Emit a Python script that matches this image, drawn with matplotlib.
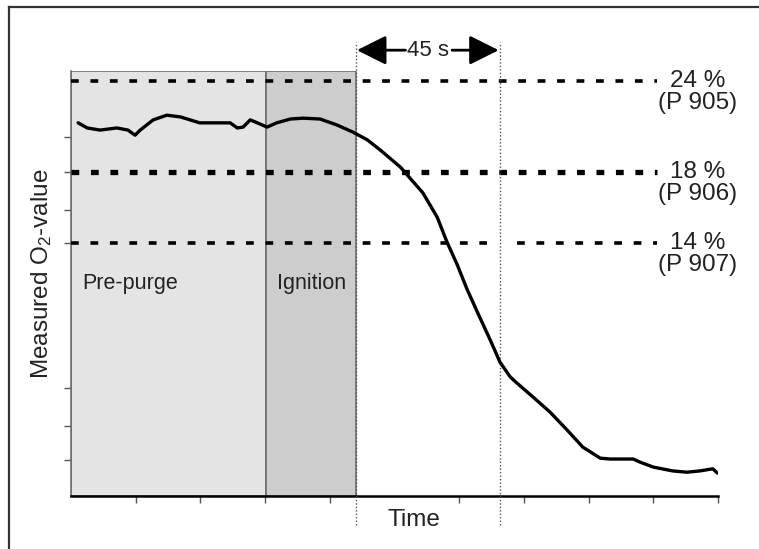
import matplotlib
matplotlib.use("Agg")
import matplotlib.pyplot as plt
from matplotlib.lines import Line2D

# === Data (x: time units, y: relative O2 signal 0-100) ===
time = [0.11, 0.25, 0.45, 0.71, 0.88, 0.99, 1.07, 1.27, 1.48, 1.69, 1.99, 2.26,
        2.46, 2.57, 2.66, 2.77, 2.88, 3.03, 3.18, 3.39, 3.59, 3.85, 4.11, 4.36,
        4.58, 4.78, 5.09, 5.44, 5.66, 5.81, 5.97, 6.12, 6.28, 6.48, 6.63, 6.79,
        6.89, 7.14, 7.40, 7.67, 7.91, 8.18, 8.33, 8.69, 8.79, 9.00, 9.30, 9.52,
        9.72, 9.92, 9.99]
o2_signal = [87.8, 86.6, 86.1, 86.6, 86.1, 84.9, 86.1, 88.5, 89.6, 89.2, 87.8, 87.8,
             87.8, 86.6, 86.8, 88.5, 87.8, 86.8, 87.8, 88.7, 88.9, 88.7, 87.3, 85.6,
             83.8, 81.4, 77.4, 71.3, 65.6, 59.8, 54.4, 48.7, 43.3, 36.7, 31.5, 28.0,
             26.6, 23.3, 19.8, 15.5, 11.5, 8.9, 8.7, 8.7, 8.0, 6.8, 5.9, 5.6,
             5.9, 6.4, 5.4]

thresholds = [97.6, 76.2, 59.5]
threshold_pct = ["24 %", "18 %", "14 %"]
threshold_par = ["(P 905)", "(P 906)", "(P 907)"]
threshold_lw = [2.6, 3.8, 2.6]

phases = ["Pre-purge", "Ignition"]
phase_start = [0.0, 3.01]
phase_end = [3.01, 4.40]
phase_colors = ["#e4e4e4", "#cdcdcd"]

window_start, window_end = 4.40, 6.63   # the 45 s window
y_ticks = [84.5, 76.2, 67.3, 59.5, 25.4, 16.5, 8.5]
x_ticks = [1, 2, 3, 4, 6, 7, 8, 9, 10]

plt.rcParams['font.family'] = ['Liberation Sans', 'DejaVu Sans']
plt.rcParams['mathtext.fontset'] = 'custom'
plt.rcParams['mathtext.rm'] = 'Liberation Sans'
plt.rcParams['mathtext.it'] = 'Liberation Sans'
plt.rcParams['lines.scale_dashes'] = False
txt = "#222222"

fig = plt.figure(figsize=(7.59, 5.49), dpi=100)
ax = fig.add_axes([71 / 759, 1 - 496 / 549, (718 - 71) / 759, (496 - 71) / 549])
ax.set_xlim(0, 10)
ax.set_ylim(0, 100)

# === Outer frame ===
fig.add_artist(Line2D([9 / 759, 9 / 759], [0, 1 - 7 / 549], transform=fig.transFigure,
                      color="#333333", lw=1.6))
fig.add_artist(Line2D([9 / 759, 1], [1 - 7 / 549, 1 - 7 / 549], transform=fig.transFigure,
                      color="#333333", lw=1.6))

# === Phase boxes ===
for name, s, e, c in zip(phases, phase_start, phase_end, phase_colors):
    ax.axvspan(s, e, ymin=0, ymax=1, facecolor=c, edgecolor="#6f6f6f", lw=1.2, zorder=0)
    ax.text(s + 0.18, 50.1, name, fontsize=15.5, color=txt, va="center", ha="left")

# === Threshold lines ===
for y, lw, pct, par in zip(thresholds, threshold_lw, threshold_pct, threshold_par):
    kw = dict(color="black", lw=lw, dashes=(5.6, 8.4), zorder=3)
    if pct == "14 %":
        ax.plot([0, 6.43], [y, y], **kw)
        ax.plot([6.9, 9.05], [y, y], **kw)
    else:
        ax.plot([0, 9.05], [y, y], **kw)
    ax.text(9.69, y, pct, fontsize=17.5, color=txt, ha="center", va="center", clip_on=False)
    ax.text(9.69, y - 5.2, par, fontsize=17.5, color=txt, ha="center", va="center",
            clip_on=False)

# === 45 s window ===
for xv in [window_start, window_end]:
    ax.plot([xv, xv], [-6.8, 106.8], color="#555555", lw=1.0, ls=(0, (1, 1.5)),
            clip_on=False, zorder=4)
arrow_y = 104.9
ax.text(5.52, arrow_y, "45 s", fontsize=16, color=txt, ha="center", va="center")
aprops = dict(arrowstyle="-|>,head_length=0.9,head_width=0.45", color="black", lw=2,
              shrinkA=0, shrinkB=0, mutation_scale=20)
ax.annotate("", xy=(window_start + 0.02, arrow_y), xytext=(5.17, arrow_y),
            arrowprops=aprops, annotation_clip=False)
ax.annotate("", xy=(window_end - 0.02, arrow_y), xytext=(5.89, arrow_y),
            arrowprops=aprops, annotation_clip=False)

# === O2 curve ===
ax.plot(time, o2_signal, color="black", lw=2.4, solid_capstyle="round",
        solid_joinstyle="round", zorder=5)

# === Axes styling ===
for side in ["top", "right"]:
    ax.spines[side].set_visible(False)
ax.spines["left"].set_color("#6f6f6f")
ax.spines["left"].set_linewidth(1.2)
ax.spines["bottom"].set_color("black")
ax.spines["bottom"].set_linewidth(1.8)
ax.set_xticks(x_ticks)
ax.set_yticks(y_ticks)
ax.tick_params(axis="both", direction="out", length=5, width=1, color="#555555",
               labelleft=False, labelbottom=False)

fig.text(42 / 759, 1 - 274 / 549, "Measured O$_2$-value", rotation=90, fontsize=17.5,
         color=txt, ha="center", va="center")
fig.text(414 / 759, 1 - 520 / 549, "Time", fontsize=17.5, color=txt, ha="center",
         va="center")

fig.savefig("out.png", dpi=100)
